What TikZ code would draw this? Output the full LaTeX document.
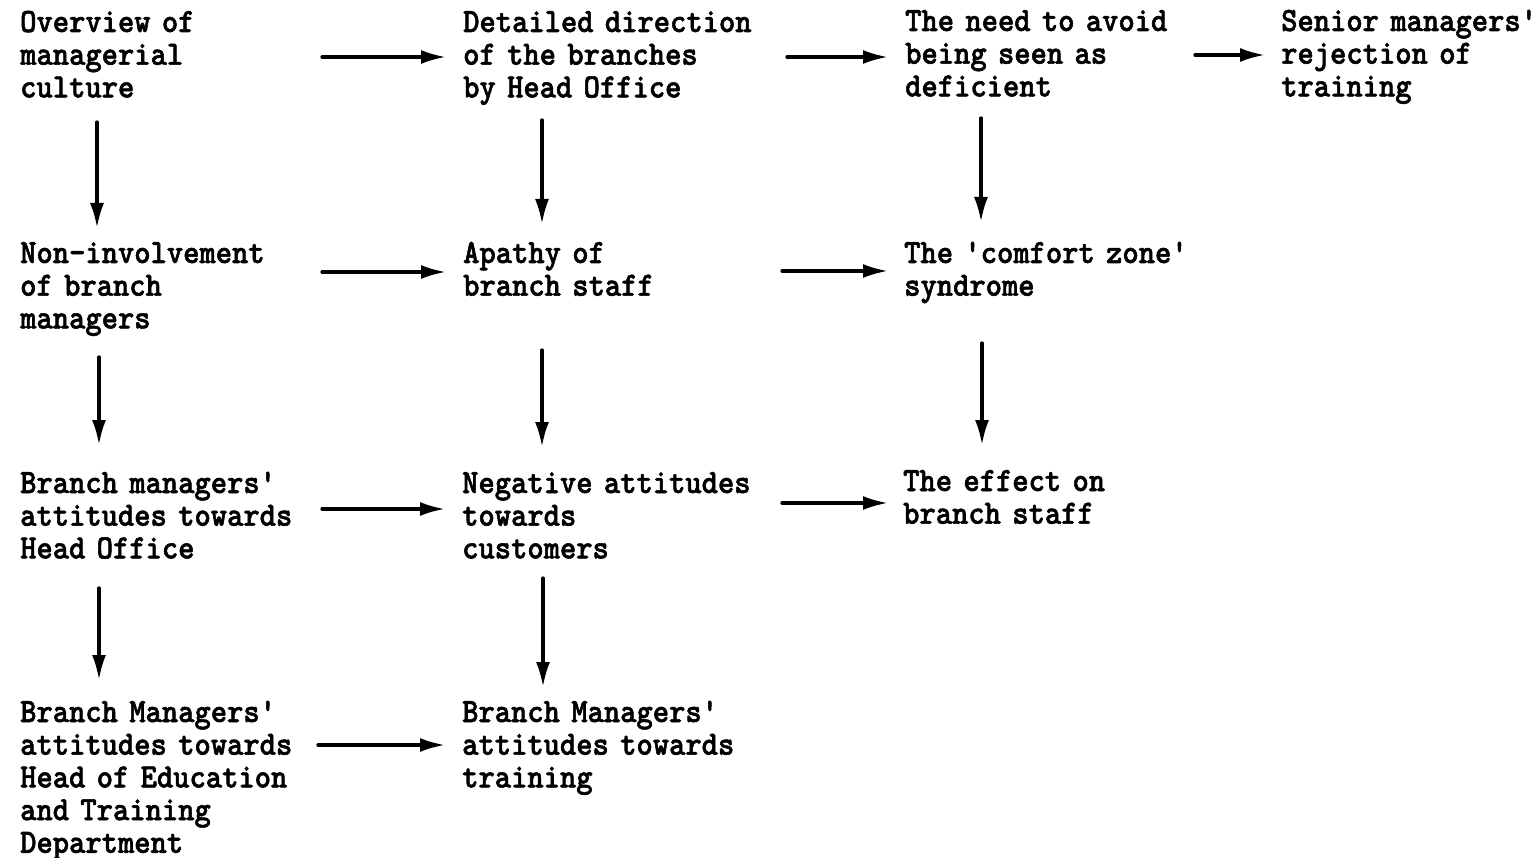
\documentclass[tikz,border=0pt]{standalone}
\usepackage{fontspec}
\newfontfamily\typewriter{lmmonolt10-bold.otf}[FakeStretch=0.913,FakeBold=1.6]
\usetikzlibrary{arrows.meta,calc}
\begin{document}
\begin{tikzpicture}[x=1pt,y=-1pt,
  lbl/.style={anchor=base west, inner sep=0pt, align=left, text width=#1,
              font=\fontsize{34}{32.7}\typewriter},
  lbl/.default=300pt,
  arr/.style={line width=3.2pt, line cap=round,
              -{Latex[length=25pt,width=14pt]}}]
\useasboundingbox (0,0) rectangle (1539,858);

% column 1
\node[lbl] (c1r1) at (20,32)  {Overview of\\managerial\\culture};
\node[lbl] (c1r2) at (20,263) {Non-involvement\\of branch\\managers};
\node[lbl] (c1r3) at (20,493) {Branch managers'\\attitudes towards\\Head Office};
\node[lbl] (c1r4) at (20,722) {Branch Managers'\\attitudes towards\\Head of Education\\and Training\\Department};

% column 2
\node[lbl=330pt] (c2r1) at (463,32)  {Detailed direction\\of the branches\\by Head Office};
\node[lbl=330pt] (c2r2) at (463,263) {Apathy of\\branch staff};
\node[lbl=330pt] (c2r3) at (462,493) {Negative attitudes\\towards\\customers};
\node[lbl=330pt] (c2r4) at (462,722) {Branch Managers'\\attitudes towards\\training};

% column 3
\node[lbl] (c3r1) at (905,31)  {The need to avoid\\being seen as\\deficient};
\node[lbl] (c3r2) at (904,263) {The 'comfort zone'\\syndrome};
\node[lbl] (c3r3) at (903,491) {The effect on\\branch staff};

% column 4
\node[lbl=260pt] (c4r1) at (1281,31) {Senior managers'\\rejection of\\training};

% horizontal links
\draw[arr] ($(c1r1.base west)+(302,25)$) -- ($(c2r1.base west)+(-17,25)$);
\draw[arr] ($(c2r1.base west)+(324,25)$) -- ($(c3r1.base west)+(-17,26)$);
\draw[arr] ($(c3r1.base west)+(290,24)$) -- ($(c4r1.base west)+(-16,24)$);

\draw[arr] ($(c1r2.base west)+(302,9)$) -- ($(c2r2.base west)+(-17,9)$);
\draw[arr] ($(c2r2.base west)+(319,8)$) -- ($(c3r2.base west)+(-16,8)$);

\draw[arr] ($(c1r3.base west)+(302,16)$) -- ($(c2r3.base west)+(-17,16)$);
\draw[arr] ($(c2r3.base west)+(320,10)$) -- ($(c3r3.base west)+(-15,12)$);

\draw[arr] ($(c1r4.base west)+(298,23)$) -- ($(c2r4.base west)+(-17,23)$);

% vertical links
\draw[arr] ($(c1r1.base west)+(77,90)$)  -- ($(c1r2.base west)+(77,-35)$);
\draw[arr] ($(c1r2.base west)+(79,94)$)  -- ($(c1r3.base west)+(79,-48)$);
\draw[arr] ($(c1r3.base west)+(79,95)$)  -- ($(c1r4.base west)+(79,-42)$);

\draw[arr] ($(c2r1.base west)+(79,88)$)  -- ($(c2r2.base west)+(79,-39)$);
\draw[arr] ($(c2r2.base west)+(79,87)$)  -- ($(c2r3.base west)+(80,-46)$);
\draw[arr] ($(c2r3.base west)+(81,85)$)  -- ($(c2r4.base west)+(81,-35)$);

\draw[arr] ($(c3r1.base west)+(76,87)$)  -- ($(c3r2.base west)+(77,-41)$);
\draw[arr] ($(c3r2.base west)+(78,80)$)  -- ($(c3r3.base west)+(79,-46)$);
\end{tikzpicture}
\end{document}
